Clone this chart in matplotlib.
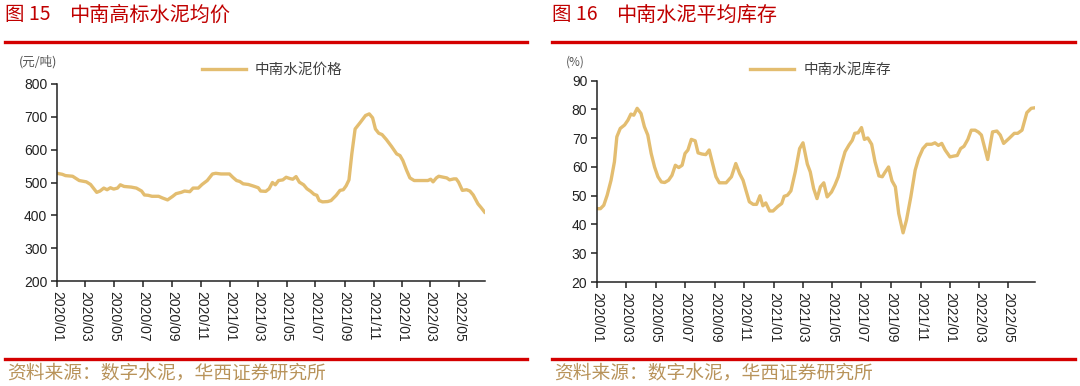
import numpy as np
import pandas as pd
import matplotlib
matplotlib.use('Agg')
from matplotlib import pyplot as plt
from matplotlib.lines import Line2D
import matplotlib.dates as mdates

# ---- data ----
start = pd.Timestamp('2020-01-01')

# 中南水泥价格 (元/吨), x = days after 2020-01-01
price_days = [0, 11, 18, 33, 47, 62, 71, 84, 91, 99, 106, 113, 120, 128, 134, 142,
              157, 168, 179, 185, 193, 201, 215, 223, 234, 245, 252, 263, 270, 281,
              288, 299, 307, 318, 329, 336, 347, 365, 372, 380, 387, 394, 405, 416,
              426, 431, 442, 449, 456, 462, 469, 478, 485, 493, 499, 506, 513, 522,
              529, 537, 544, 550, 555, 562, 573, 580, 591, 599, 606, 612, 618, 624,
              631, 642, 653, 661, 668, 674, 681, 688, 697, 708, 719, 726, 732, 740,
              747, 756, 770, 785, 791, 796, 803, 808, 818, 825, 831, 840, 845, 850,
              858, 867, 874, 881, 891, 898, 905]
price = [528, 525, 521, 519, 506, 502, 494, 470, 474, 483, 478, 484, 480, 483, 493, 488,
         486, 483, 474, 462, 461, 458, 458, 453, 447, 458, 466, 470, 474, 472,
         483, 483, 494, 506, 526, 528, 526, 526, 516, 506, 503, 496, 494, 489,
         484, 474, 473, 481, 500, 493, 506, 508, 516, 512, 510, 518, 501, 493,
         481, 473, 464, 461, 445, 441, 442, 445, 461, 476, 478, 490, 508, 587,
         663, 683, 704, 709, 697, 663, 650, 646, 631, 610, 587, 582, 567, 537,
         514, 506, 506, 506, 510, 502, 514, 519, 516, 514, 508, 511, 511, 501,
         476, 478, 474, 462, 435, 423, 410]

# 中南水泥库存 (%)
stock_days = [0, 7, 14, 21, 29, 36, 41, 48, 57, 64, 70, 76, 83, 91, 98, 105, 112, 119,
              126, 133, 140, 148, 155, 162, 169, 176, 182, 188, 195, 203, 209, 217,
              225, 232, 239, 246, 253, 267, 278, 287, 295, 302, 308, 315, 323, 330,
              337, 343, 349, 357, 364, 374, 382, 387, 394, 401, 410, 419, 426, 435,
              441, 448, 455, 462, 469, 476, 485, 492, 499, 506, 513, 521, 528, 533,
              540, 547, 553, 560, 568, 575, 583, 590, 595, 603, 610, 617, 624, 633,
              640, 649, 658, 665, 674, 682, 692, 699, 706, 713, 720, 730, 738, 745,
              752, 759, 767, 774, 782, 789, 795, 808, 818, 827, 834, 841, 852, 863,
              870, 879, 889, 898, 906]
stock = [45.5, 45.5, 46.7, 50.2, 55.4, 61.8, 70.5, 73.4, 74.6, 76.3, 78.4, 78.0, 80.4,
         78.6, 74.0, 71.1, 64.7, 60.0, 56.6, 54.8, 54.6, 55.4, 57.1, 60.6, 59.8, 60.6,
         64.7, 65.9, 69.6, 69.1, 64.9, 64.5, 64.3, 65.9, 61.2, 56.6, 54.5, 54.5, 56.6,
         61.2, 57.7, 55.4, 51.9, 47.9, 47.0, 47.0, 50.0, 46.5, 47.5, 44.7, 44.7, 46.3,
         47.3, 49.8, 50.2, 51.7, 58.3, 66.4, 68.4, 61.0, 58.3, 52.5, 49.0, 53.1, 54.5,
         49.6, 51.3, 53.7, 56.6, 61.2, 65.3, 67.6, 69.3, 71.7, 71.9, 73.7, 69.6, 70.1,
         67.9, 61.8, 56.9, 56.6, 58.0, 60.0, 55.2, 53.1, 43.8, 37.1, 41.5, 49.6, 58.9,
         63.0, 66.4, 67.9, 67.9, 68.4, 67.5, 68.2, 65.9, 63.5, 63.8, 64.0, 66.4, 67.2,
         69.6, 72.8, 72.8, 72.1, 71.1, 62.6, 72.2, 72.5, 71.1, 68.2, 69.9, 71.7, 71.7,
         72.8, 78.9, 80.4, 80.6]

fig_nums = ['图 15', '图 16']
titles = ['中南高标水泥均价', '中南水泥平均库存']
legend_labels = ['中南水泥价格', '中南水泥库存']
units = ['(元/吨)', '(%)']
source = '资料来源：数字水泥，华西证券研究所'

price_dates = start + pd.to_timedelta(price_days, unit='D')
stock_dates = start + pd.to_timedelta(stock_days, unit='D')

# ---- style ----
line_color = '#E3BD70'
red = '#D40000'
title_red = '#C00000'
source_color = '#B8935A'
cjk = ['Noto Sans CJK SC', 'DejaVu Sans']

plt.rcParams['font.family'] = ['Liberation Sans', 'Noto Sans CJK SC']

fig = plt.figure(figsize=(10.8, 3.86), dpi=100)

ax1 = fig.add_axes([0.0528, 0.272, 0.3963, 0.5104])
ax2 = fig.add_axes([0.5528, 0.2694, 0.4056, 0.5215])

l1, = ax1.plot(price_dates, price, color=line_color, lw=2.4, label=legend_labels[0])
l2, = ax2.plot(stock_dates, stock, color=line_color, lw=2.4, label=legend_labels[1])

ax1.set_ylim(200, 800)
ax1.set_yticks(np.arange(200, 801, 100))
ax2.set_ylim(20, 90)
ax2.set_yticks(np.arange(20, 91, 10))

xend = start + pd.Timedelta(days=906)
for ax in (ax1, ax2):
    ax.set_xlim(start, xend)
    ax.xaxis.set_major_locator(mdates.MonthLocator(bymonth=[1, 3, 5, 7, 9, 11]))
    ax.xaxis.set_major_formatter(mdates.DateFormatter('%Y/%m'))
    for s in ('top', 'right'):
        ax.spines[s].set_visible(False)
    for s in ('left', 'bottom'):
        ax.spines[s].set_linewidth(1.1)
        ax.spines[s].set_color('#222222')
    ax.tick_params(axis='both', direction='out', length=4, width=1.1,
                   color='#222222', labelcolor='#222222', labelsize=10, pad=3)
    plt.setp(ax.get_xticklabels(), rotation=270, ha='center', va='top')

# legends above the plots
ax1.legend(handles=[l1], loc='center left', bbox_to_anchor=(202 / 1080, 1 - 70 / 386),
           bbox_transform=fig.transFigure, frameon=False, borderpad=0, borderaxespad=0,
           handlelength=3.0, handletextpad=0.6, prop={'family': cjk, 'size': 10.5},
           labelcolor='#404040')
ax2.legend(handles=[l2], loc='center left', bbox_to_anchor=(750 / 1080, 1 - 70 / 386),
           bbox_transform=fig.transFigure, frameon=False, borderpad=0, borderaxespad=0,
           handlelength=3.0, handletextpad=0.65, prop={'family': cjk, 'size': 10.5},
           labelcolor='#404040')

# unit labels
fig.text(19 / 1080, 1 - 62 / 386, units[0], family=cjk, fontsize=9, color='#555555', va='center')
fig.text(566 / 1080, 1 - 62 / 386, units[1], family=cjk, fontsize=8.5, color='#555555', va='center')

# titles, red rules and sources
for x0, x1, num, title in ((5, 527, fig_nums[0], titles[0]), (552, 1075, fig_nums[1], titles[1])):
    fig.text(x0 / 1080, 1 - 15 / 386, num, family=cjk, fontsize=14, color=title_red, va='center')
    fig.text((x0 + 64) / 1080, 1 - 15 / 386, title, family=cjk, fontsize=14.5,
             color=title_red, va='center')
    fig.add_artist(Line2D([x0 / 1080, x1 / 1080], [1 - 42 / 386] * 2, color=red, lw=2.4,
                          transform=fig.transFigure))
    fig.add_artist(Line2D([x0 / 1080, x1 / 1080], [1 - 359 / 386] * 2, color=red, lw=2.4,
                          transform=fig.transFigure))
    fig.text((x0 + 2) / 1080, 1 - 373 / 386, source, family=cjk, fontsize=13.5,
             color=source_color, va='center')

fig.savefig('out.png', dpi=100)
